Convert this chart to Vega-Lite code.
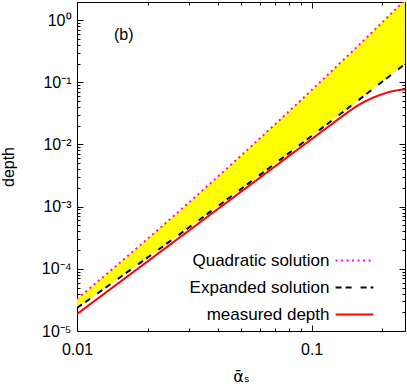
{
  "$schema": "https://vega.github.io/schema/vega-lite/v6.json",
  "width": 328,
  "height": 329,
  "autosize": {"type": "none"},
  "padding": {"left": 77, "top": 2, "right": 2, "bottom": 55},
  "title": {"text": "(b)", "anchor": "start", "frame": "group", "orient": "top", "offset": 0, "dx": 37, "dy": 54, "baseline": "alphabetic", "fontSize": 16, "fontWeight": "normal", "font": "Liberation Sans", "color": "#000000"},
  "datasets": {
    "band": [
      {"alpha": 0.01, "quad": 3.27e-5, "expanded": 2.344e-5},
      {"alpha": 0.015, "quad": 1.193e-4, "expanded": 6.964e-5},
      {"alpha": 0.02, "quad": 3.041e-4, "expanded": 1.519e-4},
      {"alpha": 0.03, "quad": 1.166e-3, "expanded": 4.622e-4},
      {"alpha": 0.05, "quad": 6.604e-3, "expanded": 1.916e-3},
      {"alpha": 0.07, "quad": 0.02121, "expanded": 4.948e-3},
      {"alpha": 0.1, "quad": 0.07464, "expanded": 0.01368},
      {"alpha": 0.15, "quad": 0.3206, "expanded": 0.04404},
      {"alpha": 0.2, "quad": 0.9173, "expanded": 0.1018},
      {"alpha": 0.25, "quad": 2.092, "expanded": 0.196}
    ],
    "curves": [
      {"alpha": 0.01, "depth": 3.27e-5, "series": "Quadratic solution"},
      {"alpha": 0.015, "depth": 1.193e-4, "series": "Quadratic solution"},
      {"alpha": 0.02, "depth": 3.041e-4, "series": "Quadratic solution"},
      {"alpha": 0.03, "depth": 1.166e-3, "series": "Quadratic solution"},
      {"alpha": 0.05, "depth": 6.604e-3, "series": "Quadratic solution"},
      {"alpha": 0.07, "depth": 0.02121, "series": "Quadratic solution"},
      {"alpha": 0.1, "depth": 0.07464, "series": "Quadratic solution"},
      {"alpha": 0.15, "depth": 0.3206, "series": "Quadratic solution"},
      {"alpha": 0.2, "depth": 0.9173, "series": "Quadratic solution"},
      {"alpha": 0.25, "depth": 2.092, "series": "Quadratic solution"},
      {"alpha": 0.01, "depth": 2.344e-5, "series": "Expanded solution"},
      {"alpha": 0.015, "depth": 6.964e-5, "series": "Expanded solution"},
      {"alpha": 0.02, "depth": 1.519e-4, "series": "Expanded solution"},
      {"alpha": 0.03, "depth": 4.622e-4, "series": "Expanded solution"},
      {"alpha": 0.05, "depth": 1.916e-3, "series": "Expanded solution"},
      {"alpha": 0.07, "depth": 4.948e-3, "series": "Expanded solution"},
      {"alpha": 0.1, "depth": 0.01368, "series": "Expanded solution"},
      {"alpha": 0.15, "depth": 0.04404, "series": "Expanded solution"},
      {"alpha": 0.2, "depth": 0.1018, "series": "Expanded solution"},
      {"alpha": 0.25, "depth": 0.196, "series": "Expanded solution"},
      {"alpha": 0.01, "depth": 1.875e-5, "series": "measured depth"},
      {"alpha": 0.02, "depth": 1.317e-4, "series": "measured depth"},
      {"alpha": 0.03, "depth": 4.121e-4, "series": "measured depth"},
      {"alpha": 0.05, "depth": 1.735e-3, "series": "measured depth"},
      {"alpha": 0.07, "depth": 4.469e-3, "series": "measured depth"},
      {"alpha": 0.1, "depth": 0.01219, "series": "measured depth"},
      {"alpha": 0.12, "depth": 0.02031, "series": "measured depth"},
      {"alpha": 0.14, "depth": 0.03126, "series": "measured depth"},
      {"alpha": 0.16, "depth": 0.04395, "series": "measured depth"},
      {"alpha": 0.18, "depth": 0.05495, "series": "measured depth"},
      {"alpha": 0.2, "depth": 0.06427, "series": "measured depth"},
      {"alpha": 0.22, "depth": 0.07129, "series": "measured depth"},
      {"alpha": 0.25, "depth": 0.07691, "series": "measured depth"}
    ]
  },
  "config": {
    "view": {"stroke": null},
    "font": "Liberation Sans",
    "axis": {
      "grid": false,
      "domainColor": "#000000",
      "domainWidth": 1,
      "tickColor": "#000000",
      "tickWidth": 1,
      "labelColor": "#000000",
      "titleColor": "#000000",
      "labelFont": "Liberation Sans",
      "labelFontSize": 16,
      "titleFont": "Liberation Sans",
      "titleFontSize": 16,
      "titleFontWeight": "normal",
      "labelOverlap": false,
      "labelFlush": false,
      "labelBound": false,
      "zindex": 1
    }
  },
  "layer": [
    {
      "data": {"name": "band"},
      "mark": {"type": "area", "color": "#ffff00", "clip": true, "interpolate": "monotone", "opacity": 1},
      "encoding": {
        "x": {
          "field": "alpha", "type": "quantitative",
          "scale": {"type": "log", "domain": [0.01, 0.25], "nice": false},
          "axis": {
            "orient": "top", "title": null, "labels": false,
            "values": [0.01, 0.02, 0.03, 0.04, 0.05, 0.06, 0.07, 0.08, 0.09, 0.1, 0.2],
            "tickSize": {"condition": {"test": "abs(log(datum.value)/LN10-round(log(datum.value)/LN10))<0.001", "value": -6}, "value": -3}
          }
        },
        "y": {
          "field": "quad", "type": "quantitative",
          "scale": {"type": "log", "domain": [1e-5, 1.95], "nice": false},
          "axis": {
            "orient": "right", "title": null, "labels": false,
            "values": [1e-5, 2e-5, 3e-5, 4e-5, 5e-5, 6e-5, 7e-5, 8e-5, 9e-5, 1e-4, 2e-4, 3e-4, 4e-4, 5e-4, 6e-4, 7e-4, 8e-4, 9e-4, 1e-3, 2e-3, 3e-3, 4e-3, 5e-3, 6e-3, 7e-3, 8e-3, 9e-3, 0.01, 0.02, 0.03, 0.04, 0.05, 0.06, 0.07, 0.08, 0.09, 0.1, 0.2, 0.3, 0.4, 0.5, 0.6, 0.7, 0.8, 0.9, 1],
            "tickSize": {"condition": {"test": "abs(log(datum.value)/LN10-round(log(datum.value)/LN10))<0.001", "value": -6}, "value": -3}
          }
        },
        "y2": {"field": "expanded"}
      }
    },
    {
      "data": {"name": "curves"},
      "mark": {"type": "line", "clip": true, "strokeWidth": 2, "interpolate": "monotone"},
      "encoding": {
        "x": {
          "field": "alpha", "type": "quantitative",
          "scale": {"type": "log", "domain": [0.01, 0.25], "nice": false},
          "axis": {
            "orient": "bottom", "title": "ᾱₛ", "titleFont": "DejaVu Sans", "titleFontSize": 16, "titlePadding": 8,
            "values": [0.01, 0.02, 0.03, 0.04, 0.05, 0.06, 0.07, 0.08, 0.09, 0.1, 0.2],
            "labelExpr": "abs(log(datum.value)/LN10-round(log(datum.value)/LN10))>0.001 ? '' : (datum.value < 0.05 ? '0.01' : '0.1')",
            "labelPadding": 16,
            "tickSize": {"condition": {"test": "abs(log(datum.value)/LN10-round(log(datum.value)/LN10))<0.001", "value": -6}, "value": -3}
          }
        },
        "y": {
          "field": "depth", "type": "quantitative",
          "scale": {"type": "log", "domain": [1e-5, 1.95], "nice": false},
          "axis": {
            "orient": "left", "title": "depth", "titleX": -69, "titleY": 164.5, "titleBaseline": "middle", "titleAlign": "center", "titleAngle": -90,
            "values": [1e-5, 2e-5, 3e-5, 4e-5, 5e-5, 6e-5, 7e-5, 8e-5, 9e-5, 1e-4, 2e-4, 3e-4, 4e-4, 5e-4, 6e-4, 7e-4, 8e-4, 9e-4, 1e-3, 2e-3, 3e-3, 4e-3, 5e-3, 6e-3, 7e-3, 8e-3, 9e-3, 0.01, 0.02, 0.03, 0.04, 0.05, 0.06, 0.07, 0.08, 0.09, 0.1, 0.2, 0.3, 0.4, 0.5, 0.6, 0.7, 0.8, 0.9, 1],
            "labelExpr": "abs(log(datum.value)/LN10-round(log(datum.value)/LN10))>0.001 ? '' : ['10⁻⁵','10⁻⁴','10⁻³','10⁻²','10⁻¹','10⁰'][round(log(datum.value)/LN10)+5]",
            "labelPadding": 12,
            "tickSize": {"condition": {"test": "abs(log(datum.value)/LN10-round(log(datum.value)/LN10))<0.001", "value": -6}, "value": -3}
          }
        },
        "color": {
          "field": "series", "type": "nominal",
          "scale": {"domain": ["Quadratic solution", "Expanded solution", "measured depth"], "range": ["#ff00ff", "#000000", "#ff0000"]},
          "legend": {"orient": "none", "legendX": 269, "legendY": 250, "title": null, "symbolType": "M-10,0H10", "symbolSize": 14.3, "symbolStrokeWidth": 2, "labelAlign": "right", "labelOffset": -33.5, "labelFontSize": 17, "labelFont": "Liberation Sans", "labelColor": "#000000", "rowPadding": 9, "labelLimit": 0, "padding": 0}
        },
        "strokeDash": {
          "field": "series", "type": "nominal",
          "scale": {"domain": ["Quadratic solution", "Expanded solution", "measured depth"], "range": [[2, 3.5], [6, 4, 6, 9], [1, 0]]},
          "legend": {"orient": "none", "legendX": 269, "legendY": 250, "title": null, "symbolType": "M-10,0H10", "symbolSize": 14.3, "symbolStrokeWidth": 2, "labelAlign": "right", "labelOffset": -33.5, "labelFontSize": 17, "labelFont": "Liberation Sans", "labelColor": "#000000", "rowPadding": 9, "labelLimit": 0, "padding": 0}
        }
      }
    }
  ],
  "resolve": {"axis": {"x": "independent", "y": "independent"}}
}
